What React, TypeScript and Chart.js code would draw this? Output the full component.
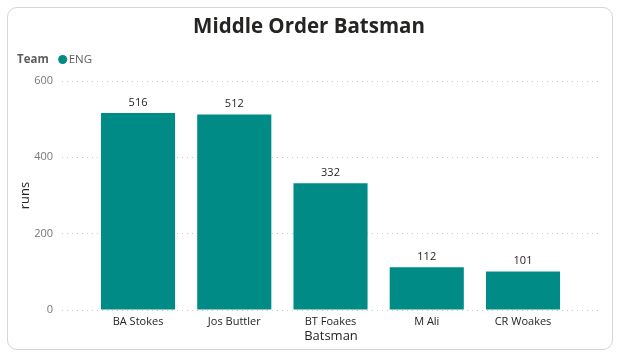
import React, { useEffect, useRef } from "react";
import { Chart, registerables } from "chart.js";

Chart.register(...registerables);

const title = "Middle Order Batsman";
const legendTitle = "Team";
const seriesName = "ENG";
const categories = ["BA Stokes", "Jos Buttler", "BT Foakes", "M Ali", "CR Woakes"];
const runs = [516, 512, 332, 112, 101];
const yTicks = [0, 200, 400, 600];

const FONT = "'Open Sans', 'Noto Sans', sans-serif";
const TEAL = "#008B87";

export default function App() {
  const ref = useRef<HTMLCanvasElement | null>(null);
  useEffect(() => {
    if (!ref.current) return;
    const overlay = {
      id: "overlay",
      afterDraw(chart: any) {
        const ctx = chart.ctx;
        ctx.save();
        // title
        ctx.fillStyle = "#252423";
        ctx.font = `bold 20.5px ${FONT}`;
        ctx.textAlign = "center";
        ctx.textBaseline = "middle";
        ctx.fillText(title, 309, 27);
        // legend
        ctx.textAlign = "left";
        ctx.font = `bold 11.5px ${FONT}`;
        ctx.fillStyle = "#605E5C";
        ctx.fillText(legendTitle, 17, 60);
        const w = ctx.measureText(legendTitle).width;
        ctx.fillStyle = TEAL;
        ctx.beginPath();
        ctx.arc(17 + w + 14, 59.5, 4.5, 0, Math.PI * 2);
        ctx.fill();
        ctx.font = `11.5px ${FONT}`;
        ctx.fillStyle = "#605E5C";
        ctx.fillText(seriesName, 17 + w + 20, 60);
        // data labels
        const meta = chart.getDatasetMeta(0);
        ctx.font = `11px ${FONT}`;
        ctx.fillStyle = "#252423";
        ctx.textAlign = "center";
        ctx.textBaseline = "bottom";
        meta.data.forEach((bar: any, i: number) => {
          ctx.fillText(String(runs[i]), bar.x, bar.y - 5);
        });
        ctx.restore();
      },
    };
    const chart = new Chart(ref.current, {
      type: "bar",
      data: {
        datasets: [
          {
            label: seriesName,
            data: runs.map((v, i) => ({ x: i, y: v })),
            backgroundColor: TEAL,
            barPercentage: 0.77,
            categoryPercentage: 1.0,
          },
        ],
      },
      options: {
        animation: false,
        responsive: false,
        layout: { padding: { top: 81, left: 17, right: 17, bottom: 17 } },
        plugins: {
          legend: { display: false },
          title: { display: false },
          tooltip: { enabled: false },
        },
        scales: {
          x: {
            type: "linear",
            offset: false,
            min: -0.79,
            max: 4.8,
            grid: { display: false, offset: false },
            border: { display: false },
            afterBuildTicks: (s: any) => {
              s.ticks = categories.map((_, i) => ({ value: i }));
            },
            afterFit: (s: any) => {
              s.height = 34;
            },
            ticks: {
              autoSkip: false,
              maxRotation: 0,
              padding: -3,
              color: "#252423",
              font: { family: FONT, size: 11 },
              callback: (v: any) => categories[Math.round(Number(v))] ?? "",
            },
            title: {
              display: true,
              text: "Batsman",
              color: "#252423",
              font: { family: FONT, size: 13 },
              padding: { top: 0, bottom: 0 },
            },
          },
          y: {
            min: 0,
            max: 600,
            afterBuildTicks: (s: any) => {
              s.ticks = yTicks.map((v) => ({ value: v }));
            },
            afterFit: (s: any) => {
              s.width = 45;
            },
            border: { display: false, dash: [1, 4] },
            grid: {
              color: "#C8C8C8",
              lineWidth: 1,
              drawTicks: false,
            },
            ticks: {
              padding: 9,
              color: "#777777",
              font: { family: FONT, size: 11 },
            },
            title: {
              display: true,
              text: "runs",
              color: "#252423",
              font: { family: FONT, size: 13 },
              padding: { top: 0, bottom: 0 },
            },
          },
        },
      },
      plugins: [overlay],
    } as any);
    return () => chart.destroy();
  }, []);
  return (
    <div style={{ position: "fixed", left: 0, top: 0, width: 617, height: 361, background: "#fff" }}>
      <div
        style={{
          position: "absolute",
          left: 7,
          top: 7,
          width: 606,
          height: 343,
          boxSizing: "border-box",
          border: "1px solid #D6D6D6",
          borderRadius: 10,
        }}
      />
      <canvas ref={ref} width={617} height={361} style={{ position: "absolute", left: 0, top: 0, width: 617, height: 361 }} />
    </div>
  );
}
